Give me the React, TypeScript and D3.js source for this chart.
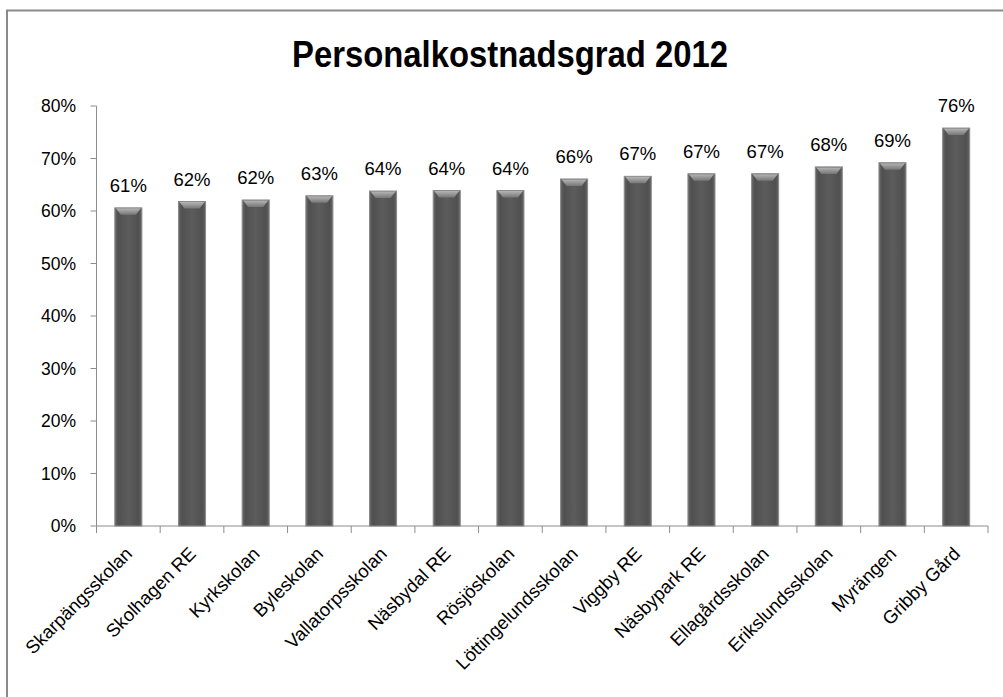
import React from "react";
import * as d3 from "d3";

const categories = [
  "Skarpängsskolan",
  "Skolhagen RE",
  "Kyrkskolan",
  "Byleskolan",
  "Vallatorpsskolan",
  "Näsbydal RE",
  "Rösjöskolan",
  "Löttingelundsskolan",
  "Viggby RE",
  "Näsbypark RE",
  "Ellagårdsskolan",
  "Erikslundsskolan",
  "Myrängen",
  "Gribby Gård",
];
const values = [0.606, 0.618, 0.621, 0.629, 0.638, 0.639, 0.639, 0.661, 0.666, 0.671, 0.671, 0.684, 0.692, 0.758];
const yTicks = [0, 0.1, 0.2, 0.3, 0.4, 0.5, 0.6, 0.7, 0.8];
const title = "Personalkostnadsgrad 2012";

const W = 1003;
const H = 697;
const left = 96.5;
const right = 988;
const top = 106;
const bottom = 526;
const font = "'Liberation Sans', Arial, sans-serif";
const axisColor = "#8c8c8c";

export default function App() {
  const x = d3.scaleBand<string>().domain(categories).range([left, right]).paddingInner(0.575).paddingOuter(0.2875);
  const y = d3.scaleLinear().domain([0, 0.8]).range([bottom, top]);
  const step = x.step();
  const bw = x.bandwidth();
  const pct = d3.format(".0%");

  return (
    <svg width={W} height={H} style={{ position: "absolute", left: 0, top: 0, background: "#fff" }}>
      <defs>
        <linearGradient id="barGrad" x1="0" x2="1" y1="0" y2="0">
          <stop offset="0" stopColor="#6a6a6a" />
          <stop offset="0.12" stopColor="#505050" />
          <stop offset="0.5" stopColor="#5c5c5c" />
          <stop offset="0.88" stopColor="#505050" />
          <stop offset="1" stopColor="#666666" />
        </linearGradient>
        <linearGradient id="bevelGrad" x1="0" x2="0" y1="0" y2="1">
          <stop offset="0" stopColor="#b5b5b5" />
          <stop offset="1" stopColor="#767676" />
        </linearGradient>
      </defs>
      <rect x={0} y={0} width={W} height={H} fill="#fff" />
      <path d={`M7,${H + 5} L7,10.5 L${W + 5},10.5`} fill="none" stroke="#8a8a8a" strokeWidth={2} />

      <text
        x={510}
        y={67}
        textAnchor="middle"
        fontFamily={font}
        fontWeight="bold"
        fontSize={37}
        textLength={436}
        lengthAdjust="spacingAndGlyphs"
        fill="#000"
      >
        {title}
      </text>

      <line x1={left} x2={left} y1={top} y2={bottom} stroke={axisColor} strokeWidth={1} />
      {yTicks.map((t) => (
        <g key={t}>
          <line x1={left - 6} x2={left} y1={y(t)} y2={y(t)} stroke={axisColor} strokeWidth={1} />
          <text x={76} y={y(t)} dy="0.35em" textAnchor="end" fontFamily={font} fontSize={17.5} fill="#000">
            {pct(t)}
          </text>
        </g>
      ))}

      <line x1={left} x2={right} y1={bottom} y2={bottom} stroke={axisColor} strokeWidth={1} />
      {d3.range(categories.length + 1).map((i) => (
        <line
          key={i}
          x1={left + i * step}
          x2={left + i * step}
          y1={bottom}
          y2={bottom + 7}
          stroke={axisColor}
          strokeWidth={1}
        />
      ))}

      {categories.map((c, i) => {
        const bx = x(c) as number;
        const by = y(values[i]);
        const bh = bottom - by;
        return (
          <g key={c}>
            <rect x={bx} y={by} width={bw} height={bh} fill="url(#barGrad)" stroke="#8a8a8a" strokeWidth={1} />
            <polygon
              points={`${bx + 1},${by + 0.5} ${bx + bw - 1},${by + 0.5} ${bx + bw - 6},${by + 7} ${bx + 6},${by + 7}`}
              fill="url(#bevelGrad)"
            />
            <text
              x={bx + bw / 2}
              y={by - 16}
              textAnchor="middle"
              fontFamily={font}
              fontSize={18.5}
              fill="#000"
            >
              {pct(values[i])}
            </text>
          </g>
        );
      })}

      {categories.map((c) => {
        const cx = (x(c) as number) + bw / 2;
        return (
          <text
            key={c}
            transform={`translate(${cx + 5},${555}) rotate(-45)`}
            textAnchor="end"
            fontFamily={font}
            fontSize={18.5}
            fill="#000"
          >
            {c}
          </text>
        );
      })}
    </svg>
  );
}
